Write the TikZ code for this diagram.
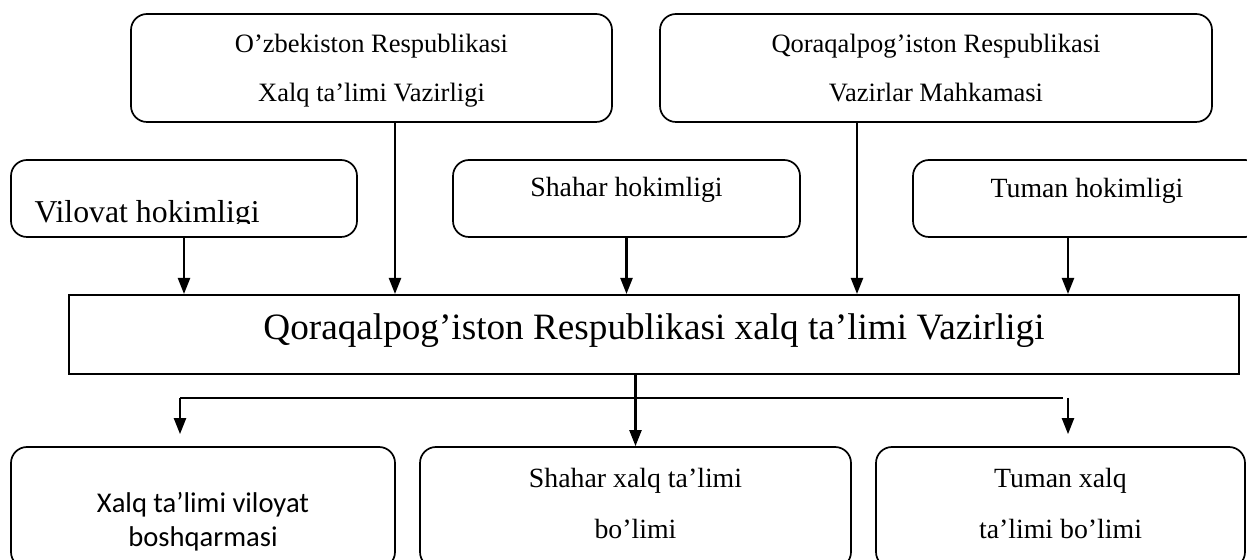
\documentclass[tikz,border=0pt]{standalone}
\usepackage{fontspec}
\setmainfont{Liberation Serif}
\newfontfamily\calibri{Carlito}
\usetikzlibrary{arrows.meta}

\begin{document}
\begin{tikzpicture}[x=0.5pt, y=-0.5pt,
  every node/.style = {shape=rectangle, align=center, inner sep=0pt},
    box/.style = {draw, rounded corners=8pt, line width=0.85pt},
    top/.style = {box, minimum height=54pt, font=\fontsize{13.25}{24.5}\selectfont},
    hok/.style = {box, minimum height=38.5pt, font=\fontsize{13.9}{16}\selectfont,
      text height=9pt, text depth=10.5pt},
    bolim/.style = {box, minimum height=60.5pt, font=\fontsize{13.9}{25.5}\selectfont},
    arr/.style = {line width=1.1pt, -{Triangle[length=8pt, width=6pt]}}, ]
  \useasboundingbox (0,0) rectangle (1247,560);
  \node[top, minimum width=240.5pt] (uzb) at (371.5,68)
    {O’zbekiston Respublikasi\\\raisebox{0pt}[\height][0pt]{Xalq ta’limi Vazirligi}};
  \node[top, minimum width=276pt] (qq) at (936,68)
    {Qoraqalpog’iston Respublikasi\\Vazirlar Mahkamasi};
  \node[hok, minimum width=173pt] (vil) at (184,198.5) {};
  \begin{scope}
    \clip (vil.north west) rectangle ([yshift=7pt]vil.south east);
    \node[anchor=base west, font=\fontsize{15.9}{18}\selectfont] (viltxt)
      at ([xshift=12pt, yshift=7.5pt]vil.south west) {Vilovat hokimligi};
  \end{scope}
  \node[hok, minimum width=173.5pt] (shah) at (626.5,198.5) {Shahar hokimligi};
  \node[hok, minimum width=174pt, text depth=9.8pt] (tum) at (1087,198.5) {Tuman hokimligi};
  \node[draw, line width=1pt, minimum width=585pt, minimum height=39.5pt,
    font=\fontsize{18.6}{22}\selectfont, text height=13pt, text depth=7.5pt] (vaz) at (654,334.5)
    {Qoraqalpog’iston Respublikasi xalq ta’limi Vazirligi};
  \node[bolim, minimum width=192pt, font=\calibri\fontsize{14.3}{17}\selectfont] (xvil) at (203,507.5)
    {\rule{0pt}{24.3pt}Xalq ta’limi viloyat\\boshqarmasi};
  \node[bolim, minimum width=215.5pt] (shxalq) at (635.5,507.5)
    {Shahar xalq ta’limi\\bo’limi\rule[-4.5pt]{0pt}{0pt}};
  \node[bolim, minimum width=184.5pt] (txalq) at (1060.5,507.5)
    {Tuman xalq\\ta’limi bo’limi\rule[-4.5pt]{0pt}{0pt}};

  \draw[arr] (vil.south) -- (vil.south |- vaz.north);
  \draw[arr] ([xshift=11.75pt]uzb.south) -- ([xshift=11.75pt]uzb.south |- vaz.north);
  \draw[arr] (shah.south) -- (shah.south |- vaz.north);
  \draw[arr] ([xshift=-39.5pt]qq.south) -- ([xshift=-39.5pt]qq.south |- vaz.north);
  \draw[arr] ([xshift=-9.5pt]tum.south) -- ([xshift=-9.5pt]tum.south |- vaz.north);

  \coordinate (chap) at ([xshift=-11.5pt, yshift=-11.5pt]xvil.north |- vaz.south);
  \coordinate (ong) at ([xshift=1.25pt]txalq.north |- chap);
  \draw[line width=1.1pt] (chap) -- (ong);
  \draw[arr] (chap) -- ([yshift=6pt]chap |- xvil.north);
  \draw[arr] ([xshift=3.75pt]txalq.north |- chap) -- ([xshift=3.75pt, yshift=6pt]txalq.north);
  \draw[arr] (vaz.south -| shxalq.north) -- (shxalq.north);
\end{tikzpicture}
\end{document}
